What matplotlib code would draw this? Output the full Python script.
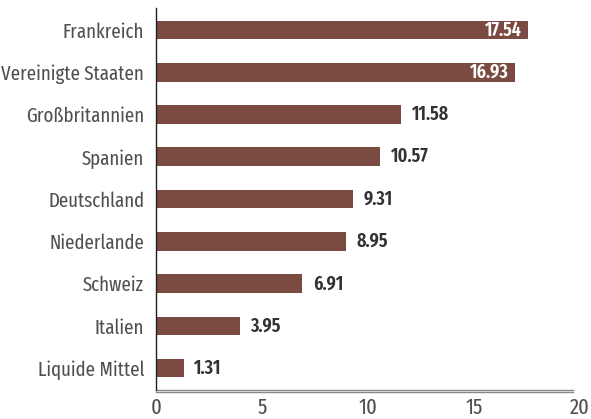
import matplotlib
matplotlib.use("Agg")
import matplotlib.pyplot as plt
from matplotlib.lines import Line2D

categories = ["Frankreich", "Vereinigte Staaten", "Großbritannien", "Spanien",
              "Deutschland", "Niederlande", "Schweiz", "Italien", "Liquide Mittel"]
values = [17.54, 16.93, 11.58, 10.57, 9.31, 8.95, 6.91, 3.95, 1.31]
xticks = [0, 5, 10, 15, 20]

plt.rcParams['font.family'] = ['Fira Sans Extra Condensed', 'Fira Sans Condensed', 'DejaVu Sans']

fig = plt.figure(figsize=(5.91, 4.19), dpi=100)
ax = fig.add_axes([0.264, 0.069, 0.717, 0.912])

bar_color = "#7b4a40"
ypos = list(range(len(categories)))
ax.barh(ypos, values, height=0.44, color=bar_color, left=0)
ax.set_ylim(len(categories) - 0.48, -0.52)
ax.set_xlim(0, 20)

ax.set_yticks(ypos)
ax.set_yticklabels(categories, fontsize=14.8, color="#505050", fontweight='normal')
ax.set_xticks(xticks)
ax.set_xticklabels([str(t) for t in xticks], fontsize=16, color="#505050", fontweight='normal')
ax.tick_params(axis='both', length=0)
ax.tick_params(axis='y', pad=8.5)
ax.tick_params(axis='x', pad=5)

for s in ['top', 'right', 'bottom']:
    ax.spines[s].set_visible(False)
ax.spines['left'].set_color("#222222")
ax.spines['left'].set_linewidth(1.0)

# double line bottom axis
for yy in [0.0, -0.005]:
    ax.add_line(Line2D([0, 0.985], [yy, yy], transform=ax.transAxes,
                       color="#888888", linewidth=1.0, clip_on=False))

for i, v in enumerate(values):
    label = f"{v:.2f}"
    if v > 15:
        ax.text(v - 0.3, i, label, ha='right', va='center', fontsize=14,
                fontweight='semibold', color='white')
    else:
        ax.text(v + 0.5, i, label, ha='left', va='center', fontsize=14,
                fontweight='semibold', color='#333333')

fig.savefig("out.png", dpi=100)
